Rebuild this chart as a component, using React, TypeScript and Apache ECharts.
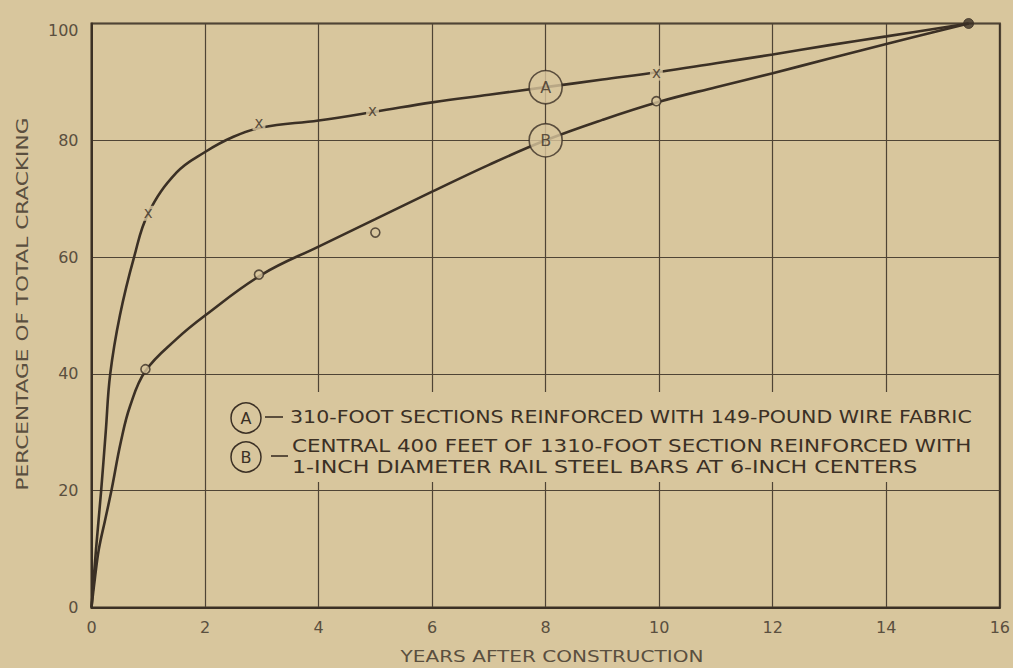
import React, { useEffect, useRef } from "react";
import * as echarts from "echarts";

// ---- data ----
const xTickValues = [0, 2, 4, 6, 8, 10, 12, 14, 16];
const yTickValues = [0, 20, 40, 60, 80, 100];

// Curve A: 310-foot sections, wire fabric
const curveA: [number, number][] = [
  [0, 0], [0.08, 10], [0.17, 20], [0.25, 30], [0.33, 40], [0.5, 50], [0.75, 60],
  [1, 67.5], [1.5, 74.5], [2, 78], [2.5, 80.6], [3, 82.2], [4, 83.4], [5, 84.9],
  [6, 86.5], [7, 87.8], [8, 89.1], [9, 90.4], [10, 91.7], [11, 93.2], [12, 94.7],
  [13, 96.3], [14, 97.8], [15.45, 100],
];
// Curve B: 1310-foot section, rail steel bars
const curveB: [number, number][] = [
  [0, 0], [0.06, 5], [0.13, 10], [0.24, 15], [0.35, 20], [0.52, 28.5], [0.68, 34.5],
  [0.95, 40.5], [1.5, 46], [2, 50], [3, 57], [4, 61.8], [5, 66.5], [6, 71.2],
  [7, 75.8], [8, 80], [9, 83.5], [10, 86.6], [11, 89.1], [12, 91.5], [13, 94],
  [14, 96.5], [15.45, 100],
];
// observed points
const pointsA: [number, number][] = [[1, 67.5], [2.95, 83], [4.95, 85], [9.95, 91.5]];
const pointsB: [number, number][] = [[0.95, 40.8], [2.95, 57], [5, 64.2], [9.95, 86.7]];
const endPoint: [number, number][] = [[15.45, 100]];
const curveTags = [
  { name: "A", value: [8, 89.1] },
  { name: "B", value: [8, 80] },
];

const xAxisTitle = "YEARS AFTER CONSTRUCTION";
const yAxisTitle = "PERCENTAGE OF TOTAL CRACKING";
const legendA = "310-FOOT SECTIONS REINFORCED WITH 149-POUND WIRE FABRIC";
const legendB1 = "CENTRAL 400 FEET OF 1310-FOOT SECTION REINFORCED WITH";
const legendB2 = "1-INCH DIAMETER RAIL STEEL BARS AT 6-INCH CENTERS";

// ---- styles ----
const BG = "#d8c69d";
const DARK = "#3b3025";
const GRID = "#4f4435";
const LABEL = "#5a4f3f";
const FONT = "DejaVu Sans";

function measure(text: string, size: number): number {
  const c = document.createElement("canvas");
  const ctx = c.getContext("2d")!;
  ctx.font = `${size}px "${FONT}"`;
  return ctx.measureText(text).width;
}

function stretchedText(
  text: string, x: number, y: number, size: number, width: number,
  align: "left" | "center", color: string, rotation = 0
) {
  const w = measure(text, size);
  return {
    type: "text",
    x, y, rotation,
    scaleX: width / w,
    z: 101,
    style: {
      text, fill: color, fontSize: size, fontFamily: FONT,
      align, verticalAlign: "middle",
    },
  };
}

export default function App() {
  const ref = useRef<HTMLDivElement>(null);
  useEffect(() => {
    const chart = echarts.init(ref.current!, null, { renderer: "svg" });
    const option: any = {
      animation: false,
      backgroundColor: BG,
      grid: {
        left: 91.5, right: 9, top: 23.5, bottom: 60.5,
        show: true, borderColor: DARK, borderWidth: 2,
      },
      xAxis: {
        type: "value", min: 0, max: 16, interval: 2,
        axisLine: { show: true, lineStyle: { color: DARK, width: 2 } },
        axisTick: { show: false },
        axisLabel: {
          fontSize: 16, color: LABEL, margin: 12, fontFamily: FONT,
          formatter: (v: number) => (xTickValues.includes(v) ? String(v) : ""),
        },
        splitLine: { show: true, lineStyle: { color: GRID, width: 1.2 } },
      },
      yAxis: {
        type: "value", min: 0, max: 100, interval: 20,
        axisLine: { show: true, lineStyle: { color: DARK, width: 2 } },
        axisTick: { show: false },
        axisLabel: {
          fontSize: 16, color: LABEL, margin: 13, fontFamily: FONT,
          formatter: (v: number) =>
            yTickValues.includes(v) ? (v === 100 ? "{low|100}" : String(v)) : "",
          rich: { low: { fontSize: 16, color: LABEL, fontFamily: FONT, padding: [14, 0, 0, 0] } },
        },
        splitLine: { show: true, lineStyle: { color: GRID, width: 1.2 } },
      },
      series: [
        {
          type: "line", data: curveA, smooth: 0.4,
          showSymbol: false, symbol: "none", z: 3,
          lineStyle: { color: DARK, width: 2.6 },
        },
        {
          type: "line", data: curveB, smooth: 0.4,
          showSymbol: false, symbol: "none", z: 3,
          lineStyle: { color: DARK, width: 2.6 },
        },
        {
          type: "scatter", data: pointsA, symbolSize: 0, z: 6,
          label: {
            show: true, position: "inside", formatter: "x", fontSize: 15,
            fontFamily: FONT, color: DARK, backgroundColor: BG, padding: [0, 2, 1, 2],
            lineHeight: 14,
          },
        },
        {
          type: "scatter", data: pointsB, symbol: "circle", symbolSize: 9, z: 6,
          itemStyle: { color: BG, borderColor: DARK, borderWidth: 1.6 },
        },
        {
          type: "scatter", data: endPoint, symbol: "circle", symbolSize: 10, z: 6,
          itemStyle: { color: DARK, borderColor: DARK, borderWidth: 1 },
        },
        {
          type: "scatter", data: curveTags, symbol: "circle", symbolSize: 33, z: 6,
          itemStyle: { color: BG, borderColor: DARK, borderWidth: 1.6 },
          label: {
            show: true, position: "inside", formatter: "{b}", fontSize: 16,
            fontFamily: FONT, color: DARK,
          },
        },
      ],
      graphic: [
        // axis titles
        stretchedText(xAxisTitle, 552, 656, 16, 303, "center", LABEL),
        stretchedText(yAxisTitle, 22, 304, 16, 373, "center", LABEL, Math.PI / 2),
        // legend box
        {
          type: "rect", z: 100,
          shape: { x: 214, y: 392, width: 766, height: 90 },
          style: { fill: BG },
        },
        {
          type: "circle", z: 101,
          shape: { cx: 246, cy: 418, r: 15 },
          style: { fill: BG, stroke: DARK, lineWidth: 1.5 },
        },
        {
          type: "text", z: 102, x: 246, y: 418,
          style: { text: "A", fill: DARK, fontSize: 16, fontFamily: FONT, align: "center", verticalAlign: "middle" },
        },
        {
          type: "circle", z: 101,
          shape: { cx: 246, cy: 457, r: 15 },
          style: { fill: BG, stroke: DARK, lineWidth: 1.5 },
        },
        {
          type: "text", z: 102, x: 246, y: 457,
          style: { text: "B", fill: DARK, fontSize: 16, fontFamily: FONT, align: "center", verticalAlign: "middle" },
        },
        {
          type: "line", z: 101,
          shape: { x1: 265, y1: 417, x2: 283, y2: 417 },
          style: { stroke: DARK, lineWidth: 1.6 },
        },
        {
          type: "line", z: 101,
          shape: { x1: 271, y1: 456, x2: 288, y2: 456 },
          style: { stroke: DARK, lineWidth: 1.6 },
        },
        stretchedText(legendA, 290, 417, 17, 682, "left", DARK),
        stretchedText(legendB1, 292, 446, 17, 680, "left", DARK),
        stretchedText(legendB2, 292, 467, 17, 626, "left", DARK),
      ],
    };
    chart.setOption(option);
    return () => chart.dispose();
  }, []);
  return (
    <div
      ref={ref}
      style={{ position: "absolute", left: 0, top: 0, width: 1013, height: 668, background: BG }}
    />
  );
}
